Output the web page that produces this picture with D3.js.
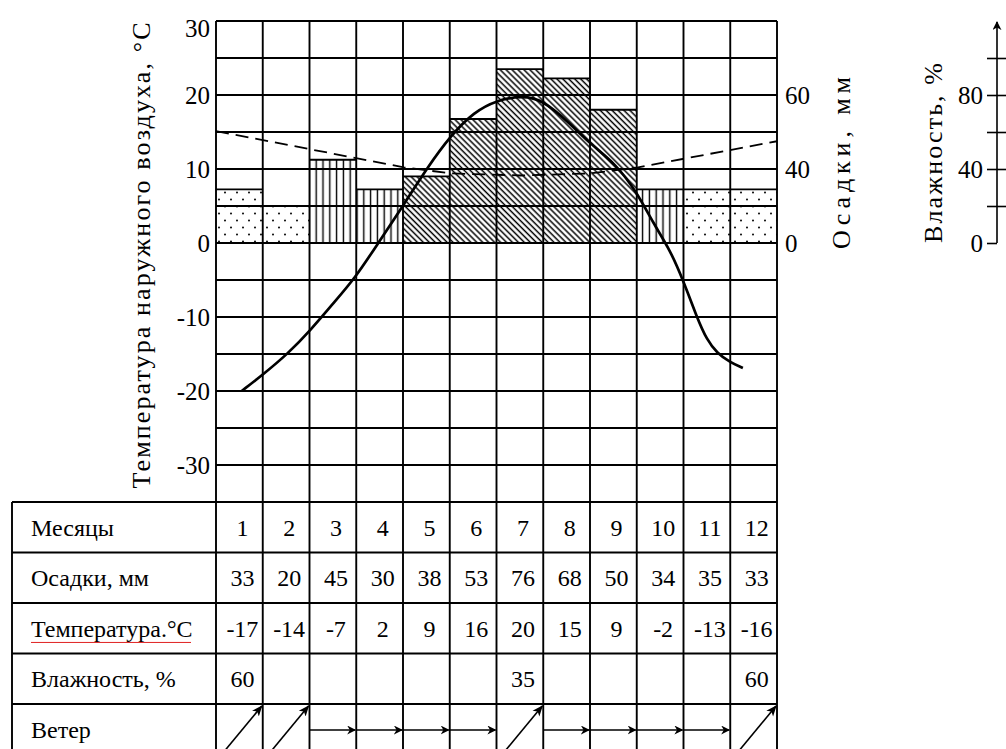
<!DOCTYPE html>
<html><head><meta charset="utf-8">
<script src="https://cdn.jsdelivr.net/npm/d3@7"></script>
<style>
body{margin:0;background:#fff}
svg{display:block}
text{font-family:"Liberation Serif","Times New Roman",serif;fill:#000}
</style>
</head><body>
<svg id="c" width="1006" height="749"></svg>
<script>
// ---------- data ----------
const months = [1,2,3,4,5,6,7,8,9,10,11,12];
const rowLabels = ["Месяцы","Осадки, мм","Температура.°С","Влажность, %","Ветер"];
const precipTable = [33,20,45,30,38,53,76,68,50,34,35,33];
const tempTable = [-17,-14,-7,2,9,16,20,15,9,-2,-13,-16];
const humidityTable = [60,null,null,null,null,null,35,null,null,null,null,60];
const windTable = ["NE","NE","E","E","E","E","NE","E","E","E","E","NE"];
// bar heights as drawn (precipitation scale, 20 units per grid row)
const precipBars = [29,20,45,29,36,67,94,89,72,29,29,29];
const precipKind = ["snow","snow","mixed","mixed","rain","rain","rain","rain","rain","mixed","snow","snow"];
// temperature curve as drawn (month position, °C)
const tempCurveMonth = [1.05,1.52,2.03,2.52,3.0,3.47,3.97,4.54,5.01,5.53,6.02,6.5,7.07,7.49,8.03,8.54,9.03,9.5,9.85,10.21,10.49,10.79,11.0,11.22,11.49,11.77];
const tempCurveValue = [-20,-17.7,-15,-11.8,-8.2,-4.8,0,5.4,10.1,14.6,17.7,19.3,19.9,19.3,16.4,13.2,10.8,6.9,2.7,-0.9,-5,-10.1,-13.1,-14.9,-16.1,-16.9];
// humidity line as drawn (month position, %)
const humCurveMonth = [0.5,4.52,5.53,7.02,8.5,9.53,12.5];
const humCurveValue = [60.5,40.9,37.6,36.5,37.6,40.9,55];
// axes
const tempTicks = [30,20,10,0,-10,-20,-30];
const precipTickValues = [0,40,80];
const precipTickLabels = ["0","40","60"];
const humTicks = [0,20,40,60,80,100];
const humTickLabels = ["0","","40","","80",""];
const titleTemp = "Температура наружного воздуха, °С";
const titlePrecip = "Осадки, мм";
const titleHum = "Влажность, %";

// ---------- layout ----------
const L = 216, R = 777, T = 21, B = 502;
const tableLeft = 12, rowH = 50.5;
const svg = d3.select("#c");

const x = d3.scaleBand().domain(months).range([L, R]).padding(0);
const xm = d3.scaleLinear().domain([0.5, 12.5]).range([L, R]);
const y = d3.scaleLinear().domain([-35, 30]).range([B, T]);
const yP = d3.scaleLinear().domain([0, 100]).range([y(0), y(25)]);
const bw = x.bandwidth();

// ---------- patterns ----------
const defs = svg.append("defs");
const pDots = defs.append("pattern").attr("id","snow").attr("patternUnits","userSpaceOnUse")
  .attr("width",12).attr("height",14);
pDots.append("rect").attr("width",12).attr("height",14).attr("fill","#fff");
pDots.append("circle").attr("cx",3).attr("cy",3.5).attr("r",1.05).attr("fill","#111");
pDots.append("circle").attr("cx",9).attr("cy",10.5).attr("r",1.05).attr("fill","#111");

const pV = defs.append("pattern").attr("id","mixed").attr("patternUnits","userSpaceOnUse")
  .attr("width",6.8).attr("height",10);
pV.append("rect").attr("width",6.8).attr("height",10).attr("fill","#fff");
pV.append("line").attr("x1",3.4).attr("x2",3.4).attr("y1",0).attr("y2",10).attr("stroke","#000").attr("stroke-width",1.4);

const pH = defs.append("pattern").attr("id","rain").attr("patternUnits","userSpaceOnUse")
  .attr("width",4.2).attr("height",10).attr("patternTransform","rotate(-45)");
pH.append("rect").attr("width",4.2).attr("height",10).attr("fill","#fff");
pH.append("line").attr("x1",2).attr("x2",2).attr("y1",0).attr("y2",10).attr("stroke","#000").attr("stroke-width",1.5);

const mk = defs.append("marker").attr("id","arr").attr("viewBox","0 0 10 10")
  .attr("refX",9).attr("refY",5).attr("markerWidth",9).attr("markerHeight",9)
  .attr("markerUnits","userSpaceOnUse").attr("orient","auto");
mk.append("path").attr("d","M0,0 L10,5 L0,10 L3,5 Z").attr("fill","#000");
const mkUp = defs.append("marker").attr("id","arrUp").attr("viewBox","0 0 10 10")
  .attr("refX",9).attr("refY",5).attr("markerWidth",11).attr("markerHeight",11)
  .attr("markerUnits","userSpaceOnUse").attr("orient","auto");
mkUp.append("path").attr("d","M0,1 L10,5 L0,9 L2.5,5 Z").attr("fill","#000");

const kindFill = d3.scaleOrdinal().domain(["snow","mixed","rain"]).range(["url(#snow)","url(#mixed)","url(#rain)"]);

// ---------- bars ----------
const bars = svg.append("g");
bars.selectAll("rect").data(months).join("rect")
  .attr("x", d => x(d)).attr("width", bw)
  .attr("y", (d,i) => yP(precipBars[i]))
  .attr("height", (d,i) => yP(0) - yP(precipBars[i]))
  .attr("fill", (d,i) => kindFill(precipKind[i]));
bars.selectAll("line").data(months).join("line")
  .attr("x1", d => x(d)).attr("x2", d => x(d) + bw)
  .attr("y1", (d,i) => yP(precipBars[i])).attr("y2", (d,i) => yP(precipBars[i]))
  .attr("stroke","#000").attr("stroke-width",1.9);

// ---------- grid ----------
const grid = svg.append("g").attr("stroke","#000").attr("stroke-width",1.9);
const hVals = d3.range(-30, 31, 5);
grid.selectAll(".h").data(hVals).join("line").attr("class","h")
  .attr("x1", L).attr("x2", R).attr("y1", d => y(d)).attr("y2", d => y(d));
const edges = d3.range(0, 13);
grid.selectAll(".v").data(edges).join("line").attr("class","v")
  .attr("x1", i => xm(i + 0.5)).attr("x2", i => xm(i + 0.5))
  .attr("y1", T).attr("y2", B + rowH * 5 + 4);

// ---------- table ----------
const tbl = svg.append("g");
tbl.selectAll(".tr").data(d3.range(0, 6)).join("line").attr("class","tr")
  .attr("x1", tableLeft).attr("x2", R)
  .attr("y1", i => B + i * rowH).attr("y2", i => B + i * rowH)
  .attr("stroke","#000").attr("stroke-width",1.9);
tbl.append("line").attr("x1", tableLeft).attr("x2", tableLeft)
  .attr("y1", B).attr("y2", B + rowH * 5 + 4).attr("stroke","#000").attr("stroke-width",1.9);

tbl.selectAll(".rl").data(rowLabels).join("text").attr("class","rl")
  .attr("x", 31).attr("y", (d,i) => B + i * rowH + rowH / 2)
  .attr("dy","0.35em").attr("font-size",24).text(d => d);

// spell-check squiggle under "Температура.°С"
const sq = [];
for (let px = 31; px <= 192; px += 2) sq.push([px, B + 2.5 * rowH + 13 + ((px / 2) % 2 ? 1.2 : -1.2)]);
tbl.append("path").attr("d", d3.line()(sq)).attr("fill","none").attr("stroke","#e02020").attr("stroke-width",1);

const rowsVals = [months, precipTable, tempTable, humidityTable];
rowsVals.forEach((arr, r) => {
  tbl.selectAll(".v" + r).data(arr).join("text").attr("class","v" + r)
    .attr("x", (d,i) => x(months[i]) + bw / 2 + 3)
    .attr("y", B + r * rowH + rowH / 2).attr("dy","0.35em")
    .attr("text-anchor","middle").attr("font-size",24)
    .text(d => d == null ? "" : String(d));
});

// wind arrows
const windG = tbl.append("g").attr("stroke","#000").attr("stroke-width",1.6);
const wTop = B + 4 * rowH, wBot = B + 5 * rowH;
windG.selectAll("line").data(months).join("line")
  .attr("x1", (d,i) => windTable[i] === "NE" ? x(d) + 4 : x(d))
  .attr("y1", (d,i) => windTable[i] === "NE" ? wBot + 2 : wTop + 26)
  .attr("x2", (d,i) => x(d) + bw - 1)
  .attr("y2", (d,i) => windTable[i] === "NE" ? wTop + 2 : wTop + 26)
  .attr("marker-end", (d,i) => windTable[i] === "NE" ? "url(#arrUp)" : "url(#arr)");

// ---------- lines ----------
const tempLine = d3.line().x(d => xm(d[0])).y(d => y(d[1])).curve(d3.curveBasis);
svg.append("path").datum(tempCurveMonth.map((m,i) => [m, tempCurveValue[i]]))
  .attr("d", tempLine).attr("fill","none").attr("stroke","#000").attr("stroke-width",2.7);

const humLine = d3.line().x(d => xm(d[0])).y(d => yP(d[1]));
svg.append("path").datum(humCurveMonth.map((m,i) => [m, humCurveValue[i]]))
  .attr("d", humLine).attr("fill","none").attr("stroke","#000")
  .attr("stroke-width",1.8).attr("stroke-dasharray","13,7");

// ---------- axes ----------
const axL = svg.append("g").attr("transform", `translate(${L},0)`)
  .call(d3.axisLeft(y).tickValues(tempTicks).tickFormat(d => String(d)).tickSize(0).tickPadding(6));
axL.select(".domain").remove();
axL.selectAll("text").attr("font-size",25).attr("font-family","Liberation Serif")
  .attr("dy", d => d === 30 ? "0.6em" : "0.35em");

const axR = svg.append("g").attr("transform", `translate(${R},0)`)
  .call(d3.axisRight(yP).tickValues(precipTickValues).tickFormat((d,i) => precipTickLabels[i]).tickSize(0).tickPadding(8));
axR.select(".domain").remove();
axR.selectAll("text").attr("font-size",25).attr("font-family","Liberation Serif");

const hx = 997;
const yH = d3.scaleLinear().domain([0, 100]).range([y(0), y(25)]);
const axH = svg.append("g").attr("transform", `translate(${hx},0)`)
  .call(d3.axisLeft(yH).tickValues(humTicks).tickFormat((d,i) => humTickLabels[i]).tickSize(10).tickPadding(4));
axH.select(".domain").remove();
axH.selectAll("line").attr("stroke-width",1.6);
axH.selectAll("text").attr("font-size",25).attr("font-family","Liberation Serif");
axH.selectAll(".tick").filter(d => d > 0).append("line")
  .attr("x1",0).attr("x2",10).attr("stroke","#000").attr("stroke-width",1.6);
svg.append("line").attr("x1",hx).attr("x2",hx).attr("y1",yH(0)).attr("y2",T + 1)
  .attr("stroke","#000").attr("stroke-width",1.6).attr("marker-end","url(#arr)");

// titles
svg.append("text").attr("transform", `translate(150,${(T + 490) / 2}) rotate(-90)`)
  .attr("text-anchor","middle").attr("font-size",26)
  .attr("textLength",466).attr("lengthAdjust","spacing").text(titleTemp);
svg.append("text").attr("transform", `translate(850,163) rotate(-90)`)
  .attr("text-anchor","middle").attr("font-size",26)
  .attr("textLength",172).attr("lengthAdjust","spacing").text(titlePrecip);
svg.append("text").attr("transform", `translate(942,153) rotate(-90)`)
  .attr("text-anchor","middle").attr("font-size",26)
  .attr("textLength",180).attr("lengthAdjust","spacing").text(titleHum);
</script>
</body></html>
